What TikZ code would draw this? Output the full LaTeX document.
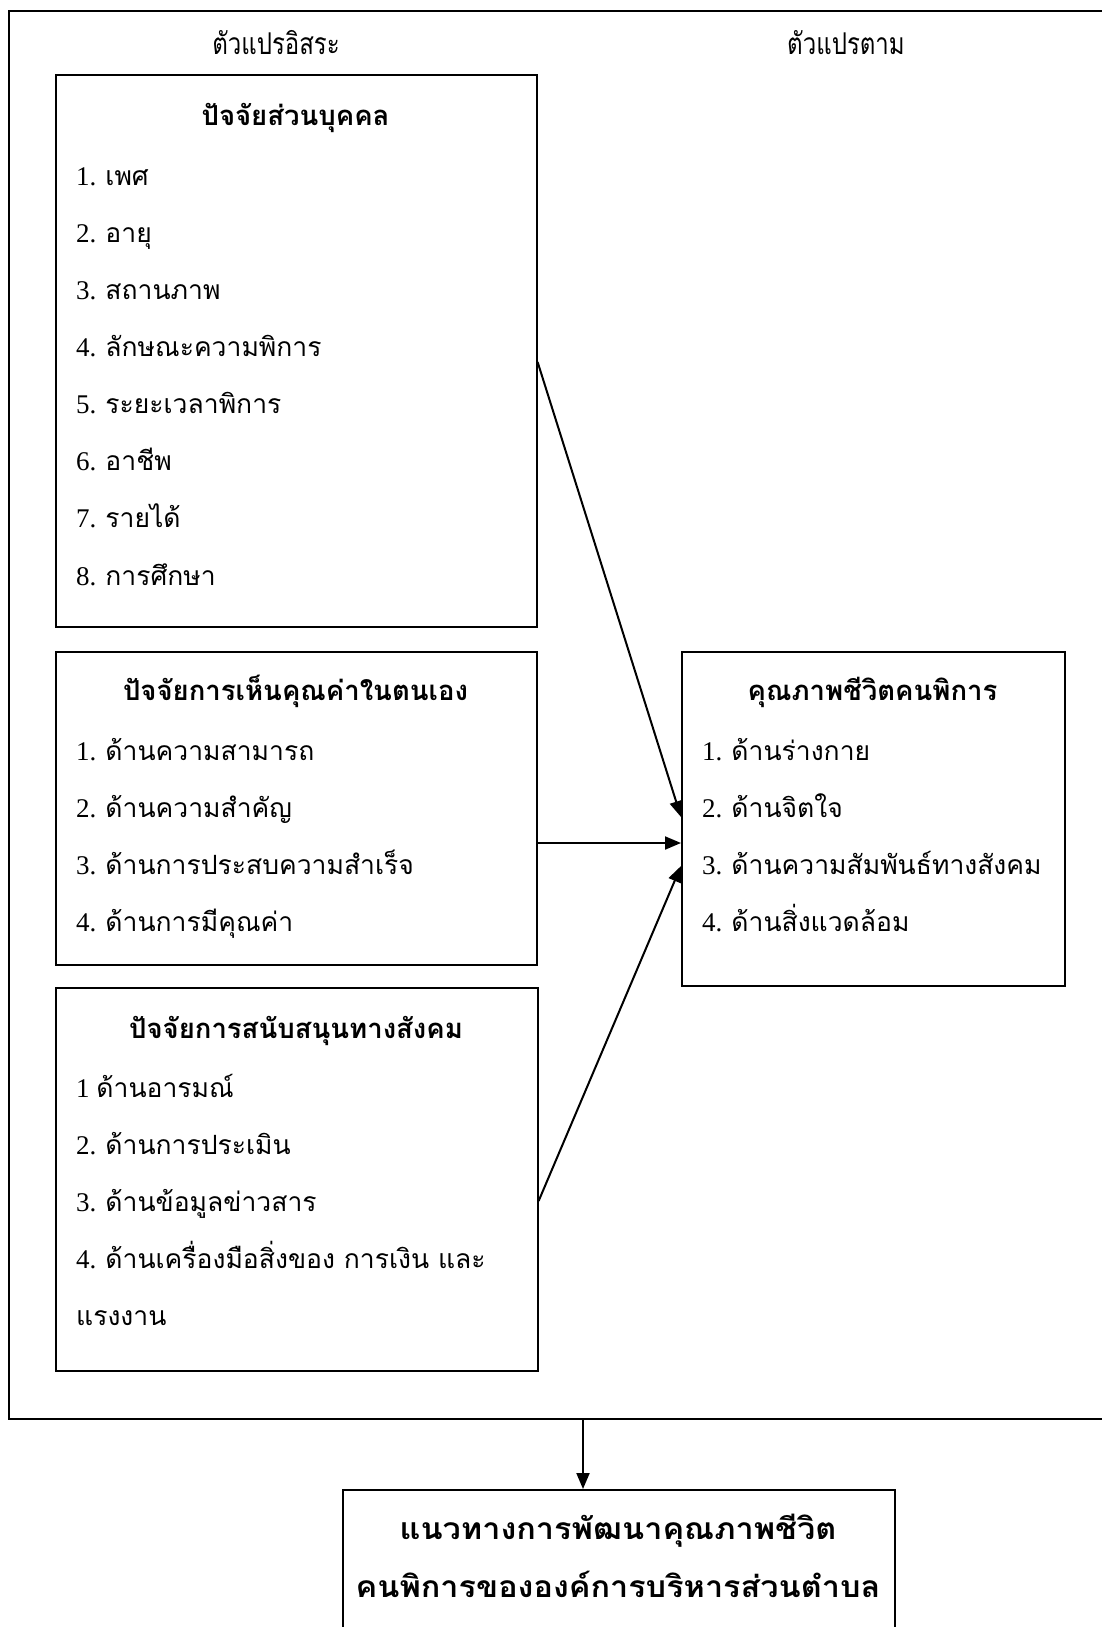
\documentclass[tikz,border=0pt]{standalone}
\usepackage{fontspec}
\setmainfont{Liberation Serif}
\newfontfamily\thai[Script=Thai]{Loma}
\newfontfamily\thaiN[Script=Thai,FakeStretch=0.8]{Loma}
\newfontfamily\thaiW[Script=Thai,FakeStretch=1.08]{Loma}
\usetikzlibrary{arrows.meta}
\newcommand\dg[1]{{\rmfamily\fontsize{27}{30}\selectfont #1}}
\tikzset{
  box/.style={draw=black, line width=1.6pt, rectangle, inner sep=0pt, anchor=north west},
  ttl/.style={anchor=base, inner sep=0pt, font=\thai\bfseries\fontsize{27.5}{30}\selectfont},
  itm/.style={anchor=base west, inner sep=0pt, font=\thai\fontsize{26.5}{30}\selectfont},
  lbl/.style={anchor=base, inner sep=0pt, font=\thaiN\fontsize{30}{30}\selectfont},
  gtx/.style={anchor=base, inner sep=0pt, font=\thaiW\bfseries\fontsize{30}{32}\selectfont},
  arr/.style={line width=2pt, -{Triangle[length=16pt,width=13pt]}}
}
\begin{document}
\begin{tikzpicture}[x=1pt,y=-1pt]
\useasboundingbox (0,0) rectangle (1102,1627);
\fill[white] (0,0) rectangle (1102,1627);
\clip (0,0) rectangle (1102,1627);
% outer frame
\node[box, minimum width=1110pt, minimum height=1408pt] (frame) at (8,10) {};
% labels
\node[lbl] (lin) at (276,55) {ตัวแปรอิสระ};
\node[lbl] (ldep) at (846,55) {ตัวแปรตาม};
% box 1
\node[box, minimum width=481pt, minimum height=552pt] (b1) at (55,74) {};
\node[ttl] (t1) at (295.5,126) {ปัจจัยส่วนบุคคล};
\node[itm] (i11) at (76,185) {\dg{1. }เพศ};
\node[itm] (i12) at (76,242) {\dg{2. }อายุ};
\node[itm] (i13) at (76,299) {\dg{3. }สถานภาพ};
\node[itm] (i14) at (76,356) {\dg{4. }ลักษณะความพิการ};
\node[itm] (i15) at (76,413) {\dg{5. }ระยะเวลาพิการ};
\node[itm] (i16) at (76,470) {\dg{6. }อาชีพ};
\node[itm] (i17) at (76,527) {\dg{7. }รายได้};
\node[itm] (i18) at (76,585) {\dg{8. }การศึกษา};
% box 2
\node[box, minimum width=481pt, minimum height=313pt] (b2) at (55,651) {};
\node[ttl] (t2) at (295.5,700) {ปัจจัยการเห็นคุณค่าในตนเอง};
\node[itm] (i21) at (76,760) {\dg{1. }ด้านความสามารถ};
\node[itm] (i22) at (76,817) {\dg{2. }ด้านความสำคัญ};
\node[itm] (i23) at (76,874) {\dg{3. }ด้านการประสบความสำเร็จ};
\node[itm] (i24) at (76,931) {\dg{4. }ด้านการมีคุณค่า};
% box 3
\node[box, minimum width=482pt, minimum height=383pt] (b3) at (55,987) {};
\node[ttl] (t3) at (296,1038) {ปัจจัยการสนับสนุนทางสังคม};
\node[itm] (i31) at (76,1097) {\dg{1 }ด้านอารมณ์};
\node[itm] (i32) at (76,1154) {\dg{2. }ด้านการประเมิน};
\node[itm] (i33) at (76,1211) {\dg{3. }ด้านข้อมูลข่าวสาร};
\node[itm] (i34) at (76,1268) {\dg{4. }ด้านเครื่องมือสิ่งของ การเงิน และ};
\node[itm] (i35) at (76,1325) {แรงงาน};
% right box
\node[box, minimum width=383pt, minimum height=334pt] (q) at (681,651) {};
\node[ttl] (tq) at (872.5,700) {คุณภาพชีวิตคนพิการ};
\node[itm] (iq1) at (702,760) {\dg{1. }ด้านร่างกาย};
\node[itm] (iq2) at (702,817) {\dg{2. }ด้านจิตใจ};
\node[itm] (iq3) at (702,874) {\dg{3. }ด้านความสัมพันธ์ทางสังคม};
\node[itm] (iq4) at (702,931) {\dg{4. }ด้านสิ่งแวดล้อม};
% bottom box
\node[box, minimum width=552pt, minimum height=160pt] (g) at (342,1489) {};
\node[gtx] (g1) at (618,1539) {แนวทางการพัฒนาคุณภาพชีวิต};
\node[gtx] (g2) at (618,1597) {คนพิการขององค์การบริหารส่วนตำบล};
% arrows
\draw[arr] (b1.east |- 0,362) -- (q.west |- 0,817);
\draw[arr] (b2.east |- 0,843) -- (q.west |- 0,843);
\draw[arr] (b3.east |- 0,1201) -- (q.west |- 0,866);
\draw[arr] (frame.south -| 583,0) -- (g.north -| 583,0);
\end{tikzpicture}
\end{document}
